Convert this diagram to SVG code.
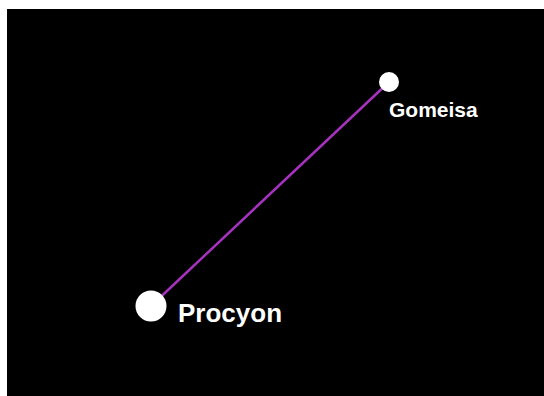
<svg xmlns="http://www.w3.org/2000/svg" width="544" height="396" viewBox="0 0 544 396">
<style>
.star{fill:#ffffff}
.lbl{fill:#ffffff;font-family:"Liberation Sans",Arial,sans-serif;font-weight:bold}
.conn{stroke:#a632bf;stroke-width:2.5;fill:none}
</style>
<rect x="0" y="0" width="544" height="396" fill="#ffffff"/>
<rect x="7" y="9" width="537" height="387" fill="#000000"/>
<g id="connectors">
<line class="conn" x1="151" y1="306" x2="389" y2="82"/>
</g>
<g id="procyon">
<circle class="star" cx="151" cy="306" r="15.5"/>
<text class="lbl" x="178" y="322" font-size="26">Procyon</text>
</g>
<g id="gomeisa">
<circle class="star" cx="389" cy="82" r="10"/>
<text class="lbl" x="389" y="117" font-size="21">Gomeisa</text>
</g>
</svg>
